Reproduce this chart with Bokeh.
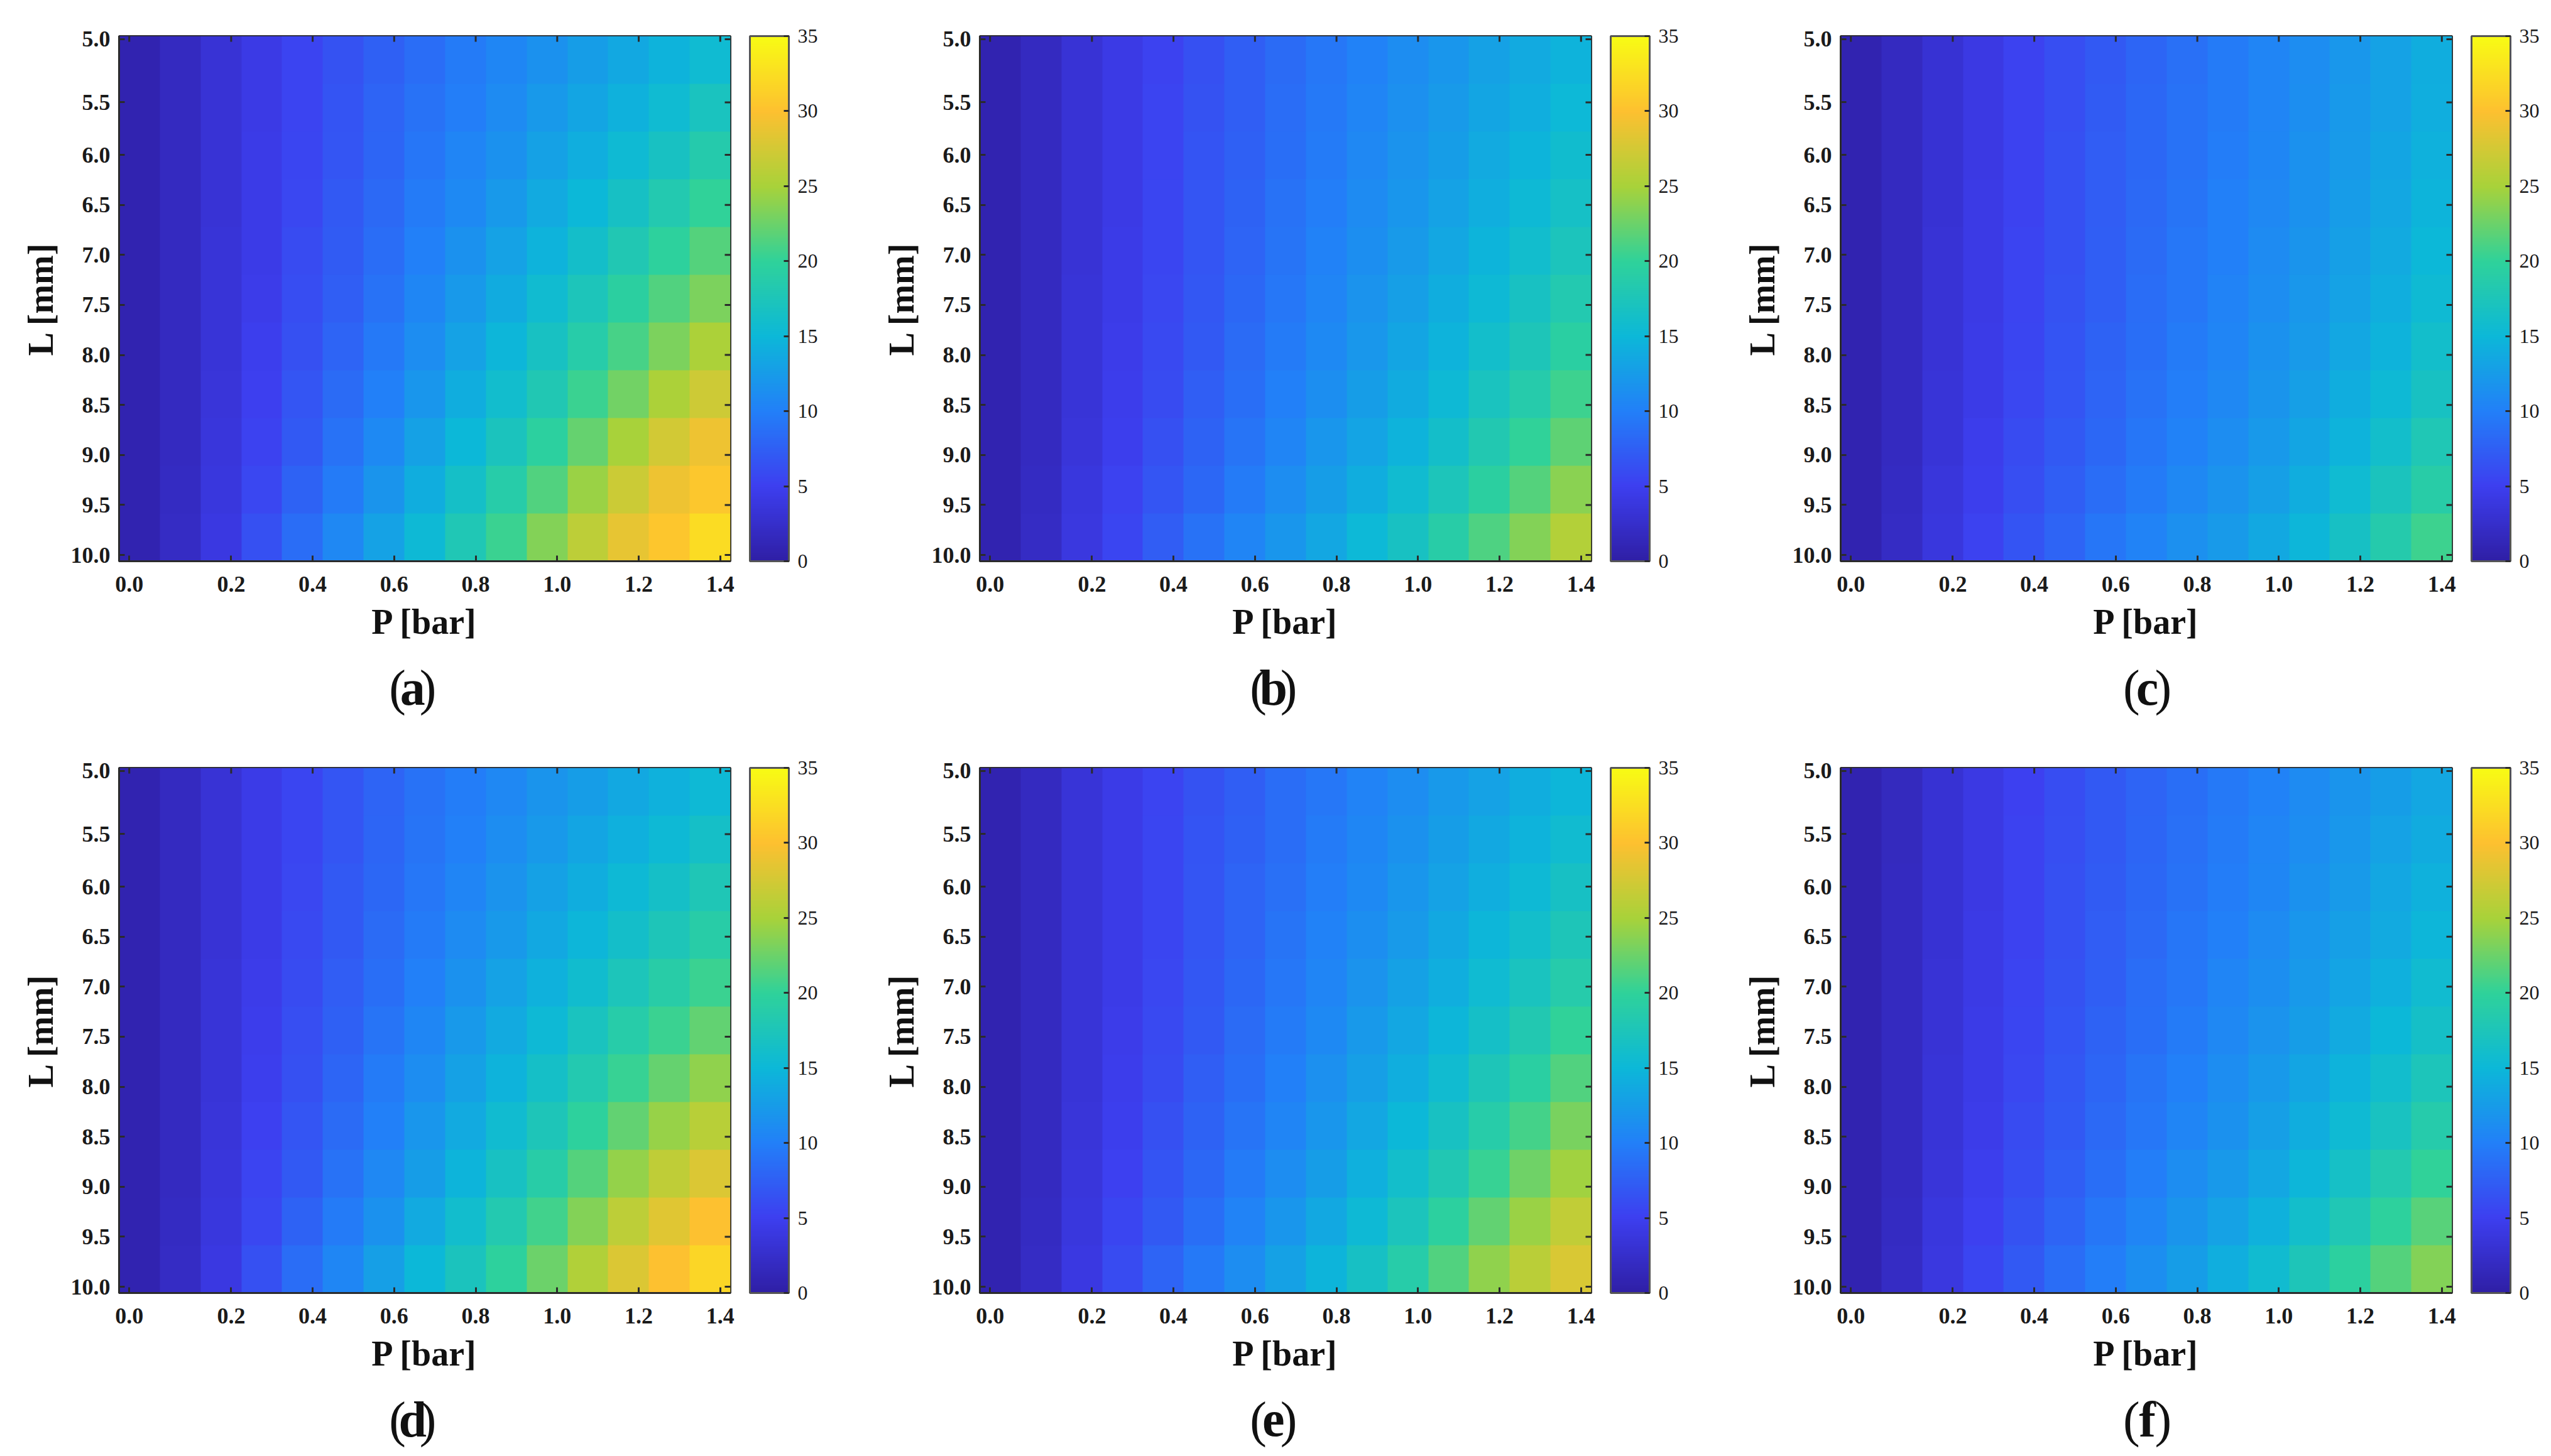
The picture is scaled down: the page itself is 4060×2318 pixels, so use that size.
from bokeh.plotting import figure
from bokeh.layouts import column, row
from bokeh.core.properties import value
from bokeh.models import (ColorBar, FixedTicker, LinearColorMapper, Range1d)
from bokeh.embed import file_html
from bokeh.resources import INLINE
import numpy as np

p_tick_labels = ["0.0", "0.2", "0.4", "0.6", "0.8", "1.0", "1.2", "1.4"]
l_tick_labels = ["5.0", "5.5", "6.0", "6.5", "7.0", "7.5", "8.0", "8.5", "9.0", "9.5", "10.0"]
cbar_ticks = [0, 5, 10, 15, 20, 25, 30, 35]
panel_names = ["a", "b", "c", "d", "e", "f"]

# Values (rows: L top to bottom, columns: P left to right)
panel_a = [
    [0.7, 1.8, 3.2, 4.3, 5.4, 6.5, 7.6, 8.6, 9.6, 10.6, 11.6, 12.6, 13.6, 14.6, 15.5],
    [0.7, 1.8, 3.2, 4.3, 5.4, 6.6, 7.8, 8.9, 9.9, 11.0, 12.2, 13.3, 14.4, 15.5, 17.0],
    [0.7, 1.8, 3.2, 4.4, 5.5, 6.8, 8.0, 9.2, 10.4, 11.6, 12.9, 14.1, 15.4, 16.8, 18.5],
    [0.7, 1.8, 3.2, 4.4, 5.7, 7.0, 8.3, 9.6, 10.9, 12.3, 13.7, 15.0, 16.6, 18.3, 20.0],
    [0.7, 1.8, 3.3, 4.5, 5.9, 7.2, 8.6, 10.0, 11.5, 13.0, 14.6, 16.2, 18.0, 19.8, 21.5],
    [0.7, 1.8, 3.3, 4.6, 6.1, 7.5, 9.0, 10.6, 12.2, 13.9, 15.6, 17.4, 19.5, 21.4, 23.2],
    [0.7, 1.9, 3.4, 4.8, 6.4, 7.9, 9.5, 11.2, 13.0, 14.9, 16.7, 18.8, 21.0, 23.2, 25.2],
    [0.7, 1.9, 3.5, 5.0, 6.7, 8.4, 10.1, 12.0, 14.0, 15.9, 18.0, 20.4, 22.8, 25.2, 27.2],
    [0.7, 1.9, 3.6, 5.3, 7.1, 9.0, 10.9, 12.9, 15.0, 17.2, 19.6, 22.2, 25.0, 27.4, 29.0],
    [0.7, 2.0, 3.8, 5.7, 7.7, 9.7, 11.8, 14.0, 16.3, 18.8, 21.4, 24.4, 27.0, 29.0, 30.6],
    [0.8, 2.1, 4.1, 6.3, 8.6, 10.8, 13.0, 15.3, 17.8, 20.4, 23.4, 26.2, 28.6, 30.4, 32.4],
]
panel_b = [
    [0.7, 1.8, 3.2, 4.3, 5.3, 6.4, 7.4, 8.4, 9.3, 10.2, 11.1, 12.0, 12.9, 13.7, 14.5],
    [0.7, 1.8, 3.2, 4.3, 5.4, 6.5, 7.5, 8.5, 9.5, 10.5, 11.4, 12.4, 13.3, 14.2, 15.1],
    [0.7, 1.8, 3.2, 4.3, 5.4, 6.6, 7.6, 8.7, 9.7, 10.7, 11.7, 12.7, 13.7, 14.7, 15.8],
    [0.7, 1.8, 3.2, 4.3, 5.5, 6.7, 7.7, 8.9, 9.9, 11.0, 12.0, 13.1, 14.2, 15.3, 16.5],
    [0.7, 1.8, 3.2, 4.4, 5.6, 6.8, 7.9, 9.1, 10.2, 11.3, 12.4, 13.5, 14.7, 15.9, 17.3],
    [0.7, 1.8, 3.3, 4.5, 5.7, 6.9, 8.1, 9.3, 10.5, 11.7, 12.8, 14.0, 15.3, 16.7, 18.2],
    [0.7, 1.8, 3.3, 4.6, 5.8, 7.1, 8.4, 9.6, 10.9, 12.1, 13.3, 14.6, 16.0, 17.6, 19.3],
    [0.7, 1.9, 3.4, 4.7, 6.0, 7.4, 8.7, 10.0, 11.3, 12.6, 13.9, 15.3, 17.0, 18.7, 20.6],
    [0.7, 1.9, 3.5, 4.9, 6.3, 7.7, 9.1, 10.5, 11.9, 13.2, 14.6, 16.2, 18.1, 20.0, 22.0],
    [0.7, 2.0, 3.7, 5.2, 6.7, 8.2, 9.7, 11.1, 12.6, 14.0, 15.6, 17.4, 19.5, 21.6, 23.7],
    [0.8, 2.1, 3.9, 5.6, 7.3, 8.9, 10.4, 12.0, 13.5, 15.1, 16.8, 19.0, 21.3, 23.4, 25.7],
]
panel_c = [
    [0.7, 1.8, 3.1, 4.2, 5.2, 6.2, 7.1, 8.0, 8.8, 9.6, 10.4, 11.2, 12.1, 13.0, 14.0],
    [0.7, 1.8, 3.1, 4.2, 5.2, 6.2, 7.2, 8.1, 8.9, 9.7, 10.5, 11.3, 12.2, 13.1, 14.2],
    [0.7, 1.8, 3.1, 4.2, 5.3, 6.3, 7.3, 8.2, 9.0, 9.8, 10.6, 11.5, 12.4, 13.3, 14.4],
    [0.7, 1.8, 3.1, 4.3, 5.3, 6.4, 7.3, 8.3, 9.1, 10.0, 10.8, 11.6, 12.5, 13.5, 14.7],
    [0.7, 1.8, 3.2, 4.3, 5.4, 6.4, 7.4, 8.4, 9.3, 10.1, 11.0, 11.8, 12.8, 13.8, 15.0],
    [0.7, 1.8, 3.2, 4.3, 5.4, 6.5, 7.5, 8.5, 9.4, 10.3, 11.2, 12.1, 13.1, 14.2, 15.4],
    [0.7, 1.8, 3.2, 4.4, 5.5, 6.6, 7.7, 8.7, 9.6, 10.5, 11.5, 12.4, 13.5, 14.6, 16.0],
    [0.7, 1.9, 3.3, 4.5, 5.7, 6.8, 7.9, 8.9, 9.9, 10.8, 11.8, 12.8, 14.0, 15.3, 16.8],
    [0.7, 1.9, 3.4, 4.7, 5.9, 7.0, 8.2, 9.2, 10.2, 11.2, 12.2, 13.3, 14.6, 16.1, 17.8],
    [0.7, 2.0, 3.6, 4.9, 6.2, 7.4, 8.6, 9.7, 10.7, 11.7, 12.8, 14.0, 15.5, 17.2, 19.0],
    [0.8, 2.1, 3.8, 5.2, 6.6, 7.9, 9.2, 10.3, 11.4, 12.4, 13.6, 14.9, 16.6, 18.5, 20.6],
]
panel_d = [
    [0.7, 1.8, 3.2, 4.4, 5.6, 6.7, 7.9, 8.9, 9.8, 10.8, 11.8, 12.7, 13.6, 14.4, 15.2],
    [0.7, 1.8, 3.2, 4.4, 5.6, 6.8, 8.0, 9.1, 10.1, 11.2, 12.2, 13.3, 14.3, 15.3, 16.4],
    [0.7, 1.8, 3.2, 4.5, 5.7, 7.0, 8.2, 9.4, 10.5, 11.7, 12.9, 14.0, 15.2, 16.4, 17.7],
    [0.7, 1.8, 3.2, 4.5, 5.8, 7.1, 8.4, 9.7, 11.0, 12.3, 13.6, 14.8, 16.2, 17.6, 19.0],
    [0.7, 1.8, 3.3, 4.6, 6.0, 7.3, 8.7, 10.1, 11.5, 13.0, 14.4, 15.8, 17.4, 19.0, 20.5],
    [0.7, 1.8, 3.3, 4.7, 6.2, 7.6, 9.1, 10.6, 12.2, 13.8, 15.3, 17.0, 18.8, 20.5, 22.1],
    [0.7, 1.9, 3.4, 4.9, 6.4, 8.0, 9.6, 11.2, 12.9, 14.6, 16.4, 18.3, 20.3, 22.2, 24.0],
    [0.7, 1.9, 3.5, 5.1, 6.7, 8.4, 10.1, 11.9, 13.7, 15.6, 17.6, 19.8, 22.1, 24.2, 25.9],
    [0.7, 1.9, 3.6, 5.4, 7.1, 8.9, 10.8, 12.7, 14.7, 16.8, 19.0, 21.6, 24.1, 26.3, 28.0],
    [0.7, 2.0, 3.8, 5.7, 7.7, 9.6, 11.6, 13.7, 15.9, 18.2, 20.7, 23.5, 26.2, 28.2, 30.0],
    [0.8, 2.1, 4.1, 6.3, 8.5, 10.6, 12.8, 15.0, 17.2, 19.7, 22.5, 25.5, 28.0, 30.0, 31.8],
]
panel_e = [
    [0.7, 1.8, 3.3, 4.4, 5.4, 6.5, 7.5, 8.5, 9.4, 10.3, 11.2, 12.2, 13.1, 14.0, 14.8],
    [0.7, 1.8, 3.3, 4.4, 5.5, 6.6, 7.6, 8.6, 9.6, 10.6, 11.6, 12.6, 13.6, 14.6, 15.6],
    [0.7, 1.8, 3.3, 4.4, 5.5, 6.7, 7.8, 8.8, 9.9, 10.9, 12.0, 13.0, 14.1, 15.3, 16.6],
    [0.7, 1.8, 3.3, 4.5, 5.6, 6.8, 7.9, 9.1, 10.2, 11.3, 12.4, 13.6, 14.8, 16.1, 17.6],
    [0.7, 1.8, 3.3, 4.5, 5.7, 6.9, 8.1, 9.3, 10.5, 11.7, 12.9, 14.2, 15.5, 17.0, 18.7],
    [0.7, 1.8, 3.4, 4.6, 5.8, 7.1, 8.4, 9.6, 10.9, 12.2, 13.5, 14.9, 16.4, 18.1, 20.0],
    [0.7, 1.9, 3.4, 4.7, 6.0, 7.4, 8.7, 10.0, 11.4, 12.8, 14.2, 15.7, 17.5, 19.4, 21.4],
    [0.7, 1.9, 3.5, 4.9, 6.3, 7.7, 9.1, 10.5, 12.0, 13.5, 15.0, 16.8, 18.8, 20.9, 23.0],
    [0.7, 1.9, 3.6, 5.1, 6.6, 8.1, 9.6, 11.1, 12.7, 14.3, 16.0, 18.0, 20.3, 22.6, 24.7],
    [0.7, 2.0, 3.8, 5.5, 7.1, 8.7, 10.3, 11.9, 13.6, 15.3, 17.3, 19.6, 22.1, 24.4, 26.4],
    [0.8, 2.1, 4.1, 6.0, 7.8, 9.5, 11.2, 12.9, 14.7, 16.6, 18.8, 21.4, 24.0, 26.0, 27.8],
]
panel_f = [
    [0.7, 1.7, 3.1, 4.2, 5.1, 6.1, 7.0, 7.9, 8.7, 9.5, 10.2, 11.0, 11.8, 12.7, 13.5],
    [0.7, 1.7, 3.1, 4.2, 5.2, 6.2, 7.1, 8.0, 8.8, 9.6, 10.4, 11.2, 12.1, 13.0, 13.9],
    [0.7, 1.8, 3.1, 4.2, 5.2, 6.3, 7.2, 8.1, 9.0, 9.8, 10.6, 11.5, 12.4, 13.4, 14.4],
    [0.7, 1.8, 3.1, 4.3, 5.3, 6.4, 7.3, 8.3, 9.2, 10.1, 11.0, 11.9, 12.8, 13.8, 14.9],
    [0.7, 1.8, 3.2, 4.3, 5.4, 6.5, 7.5, 8.5, 9.4, 10.4, 11.3, 12.2, 13.2, 14.3, 15.6],
    [0.7, 1.8, 3.2, 4.4, 5.5, 6.6, 7.7, 8.7, 9.7, 10.7, 11.7, 12.7, 13.8, 15.0, 16.4],
    [0.7, 1.8, 3.3, 4.5, 5.7, 6.9, 8.0, 9.1, 10.1, 11.1, 12.2, 13.3, 14.5, 15.9, 17.4],
    [0.7, 1.9, 3.4, 4.6, 5.9, 7.1, 8.3, 9.4, 10.5, 11.6, 12.8, 14.0, 15.4, 16.9, 18.6],
    [0.7, 1.9, 3.5, 4.8, 6.1, 7.4, 8.7, 9.9, 11.1, 12.3, 13.5, 14.9, 16.5, 18.2, 20.0],
    [0.7, 2.0, 3.7, 5.1, 6.5, 7.9, 9.2, 10.5, 11.8, 13.1, 14.4, 16.0, 17.9, 19.8, 21.7],
    [0.8, 2.1, 3.9, 5.5, 7.0, 8.5, 9.9, 11.3, 12.7, 14.1, 15.7, 17.5, 19.6, 21.5, 23.5],
]
panels = [panel_a, panel_b, panel_c, panel_d, panel_e, panel_f]

# Tick positions: the source plots by cell index (30 x 42 cells), first step is wider
N_COL, N_ROW = 30, 42
P_POS = [0.5, 5.5, 9.5, 13.5, 17.5, 21.5, 25.5, 29.5]
L_POS = [0.25, 5.3, 9.5, 13.5, 17.5, 21.5, 25.5, 29.5, 33.5, 37.5, 41.5]

ANCHORS = ["#2f1fa6", "#3d3ff0", "#2280f8", "#0cb8d8", "#2fd29a", "#a8d23a", "#fdc030", "#f8fb14"]
def hex_rgb(h):
    return np.array([int(h[i:i + 2], 16) for i in (1, 3, 5)], float)
anchor_rgb = np.array([hex_rgb(h) for h in ANCHORS])
t = np.linspace(0, len(ANCHORS) - 1, 256)
palette = ["#%02x%02x%02x" % tuple(int(round(np.interp(v, range(len(ANCHORS)), anchor_rgb[:, c]))) for c in range(3)) for v in t]

SERIF = "Liberation Serif"
DARK = "#2b2b2b"
FRAME_W, FRAME_H = 973, 836
PX_X = FRAME_W / N_COL
PX_Y = FRAME_H / N_ROW
LEFT, TOP = 189, 57
TICK = 9
BOTTOM = 150


def make_panel(data, name, last_col, caption_h):
    mapper = LinearColorMapper(palette=palette, low=0, high=35)
    right = 150 if last_col else 208
    p = figure(frame_width=FRAME_W, frame_height=FRAME_H, x_range=Range1d(0, N_COL), y_range=Range1d(N_ROW, 0),
               output_backend="svg", toolbar_location=None, min_border_left=LEFT, min_border_top=TOP,
               min_border_right=right, min_border_bottom=BOTTOM,
               x_axis_label="P [bar]", y_axis_label="L [mm]")
    p.grid.visible = False
    p.background_fill_color = None
    p.border_fill_color = None
    p.outline_line_color = DARK
    p.outline_line_width = 3
    p.image(image=[np.array(data, dtype=float)], x=0, y=0, dw=N_COL, dh=N_ROW, color_mapper=mapper)

    for ax, pos, labels in ((p.xaxis[0], P_POS, p_tick_labels), (p.yaxis[0], L_POS, l_tick_labels)):
        ax.ticker = FixedTicker(ticks=pos)
        ax.major_label_overrides = dict(zip(pos, labels))
        ax.major_tick_in = TICK
        ax.major_tick_out = 0
        ax.major_tick_line_color = DARK
        ax.major_tick_line_width = 3
        ax.minor_tick_line_color = None
        ax.axis_line_color = DARK
        ax.axis_line_width = 3
        ax.major_label_text_font = SERIF
        ax.major_label_text_font_style = "bold"
        ax.major_label_text_font_size = "36px"
        ax.major_label_text_color = "#1a1a1a"
        ax.axis_label_text_font = SERIF
        ax.axis_label_text_font_style = "bold"
        ax.axis_label_text_font_size = "56px"
        ax.axis_label_text_color = "#111111"
    p.xaxis[0].major_label_standoff = 24
    p.yaxis[0].major_label_standoff = 14
    p.xaxis[0].axis_label_standoff = 14
    p.yaxis[0].axis_label_standoff = 14

    # Box-style ticks along the top and right edges
    p.segment(x0=P_POS, x1=P_POS, y0=[0] * len(P_POS), y1=[TICK / PX_Y] * len(P_POS), line_color=DARK, line_width=3)
    p.segment(x0=[N_COL] * len(L_POS), x1=[N_COL - TICK / PX_X] * len(L_POS), y0=L_POS, y1=L_POS, line_color=DARK, line_width=3)

    cb = ColorBar(color_mapper=mapper, ticker=FixedTicker(ticks=cbar_ticks), width=62, height=FRAME_H,
                  padding=0, margin=0, location=(31, 0), bar_line_color="#555555", bar_line_width=3,
                  major_tick_in=8, major_tick_out=0, major_tick_line_color=DARK, major_tick_line_width=3,
                  minor_tick_line_color=None, major_label_text_font=SERIF, major_label_text_font_size="32px",
                  major_label_text_color="#1a1a1a", label_standoff=14, background_fill_color=None,
                  border_line_color=None)
    p.add_layout(cb, "right")

    # Caption strip under the panel: "(a)" with a bold letter and regular brackets
    total_w = LEFT + FRAME_W + right
    cap = figure(width=total_w, height=caption_h, x_range=Range1d(0, total_w), y_range=Range1d(caption_h, 0),
                 output_backend="svg", toolbar_location=None, min_border=0, x_axis_location=None, y_axis_location=None)
    cap.grid.visible = False
    cap.outline_line_color = None
    cap.background_fill_color = None
    cap.border_fill_color = None
    cx, base = LEFT + 469, 51
    for txt, dx, style in (("(", -34, "normal"), (name, 0, "bold"), (")", 34, "normal")):
        cap.text(x=[cx + dx], y=[base], text=[txt], text_font=value(SERIF), text_font_size="80px",
                 text_font_style=style, text_align="center", text_baseline="alphabetic", text_color="#111111")
    return column(p, cap, spacing=0)


rows = []
for r, caption_h in ((0, 122), (1, 105)):
    figs = [make_panel(panels[r * 3 + c], panel_names[r * 3 + c], c == 2, caption_h) for c in range(3)]
    rows.append(row(*figs, spacing=0))
page = column(*rows, spacing=0)
open("out.html", "w").write(file_html(page, INLINE))
